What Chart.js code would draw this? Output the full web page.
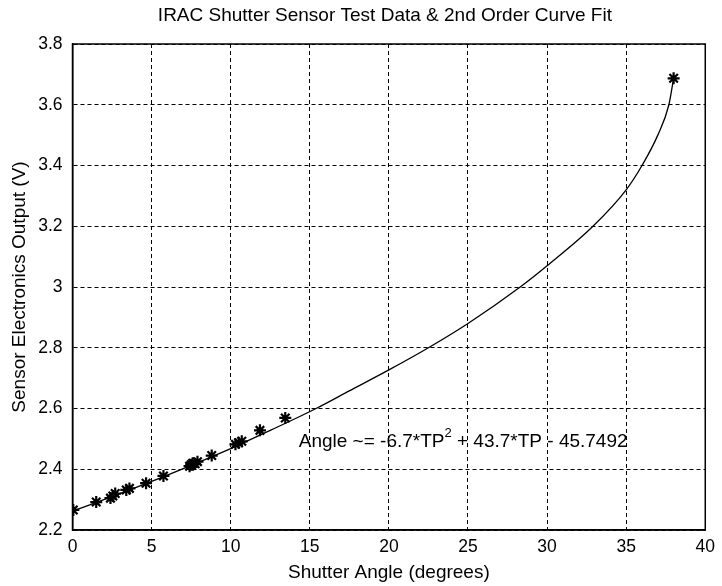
<!DOCTYPE html>
<html>
<head>
<meta charset="utf-8">
<script src="https://cdn.jsdelivr.net/npm/chart.js@4/dist/chart.umd.min.js"></script>
<style>
  html, body { margin: 0; padding: 0; background: #fff; }
  #wrap { width: 722px; height: 586px; }
</style>
</head>
<body>
<div id="wrap"><canvas id="fitChart"></canvas></div>
<script>
// measured test points (shutter angle in degrees, sensor output in volts)
const testAngle = [0.05, 1.5, 2.4, 2.55, 2.7, 3.4, 3.6, 4.65, 5.75, 7.4, 7.5, 7.6, 7.75, 7.9, 8.8, 10.3, 10.5, 10.7, 11.85, 13.45, 38.0];
const testVolts = [2.266, 2.292, 2.305, 2.312, 2.32, 2.332, 2.337, 2.354, 2.378, 2.41, 2.415, 2.42, 2.418, 2.425, 2.445, 2.482, 2.487, 2.492, 2.528, 2.569, 3.687];

// fitted curve
const fitAngle = [0, 2.5, 5, 7.5, 10, 12.5, 15.4, 17.5, 20, 22.5, 25, 28.3, 30, 32.9, 35, 36, 37, 37.7, 38.0];
const fitVolts = [2.262, 2.31, 2.36, 2.413, 2.468, 2.528, 2.6, 2.658, 2.727, 2.8, 2.88, 3.0, 3.07, 3.2, 3.32, 3.4, 3.5, 3.6, 3.687];

const xTickValues = [0, 5, 10, 15, 20, 25, 30, 35, 40];
const xTickLabels = ["0", "5", "10", "15", "20", "25", "30", "35", "40"];
const yTickValues = [2.2, 2.4, 2.6, 2.8, 3.0, 3.2, 3.4, 3.6, 3.8];
const yTickLabels = ["2.2", "2.4", "2.6", "2.8", "3", "3.2", "3.4", "3.6", "3.8"];

const titleText = "IRAC Shutter Sensor Test Data & 2nd Order Curve Fit";
const xTitle = "Shutter Angle (degrees)";
const yTitle = "Sensor Electronics Output (V)";
const fitLabel = ["Angle ~= -6.7*TP", "2", " + 43.7*TP - 45.7492"];
const fitLabelAt = { x: 14.3, y: 2.49 };

const FONT = "'Liberation Sans', Arial, sans-serif";

// title over the plot box, box round the plot area, fit equation
const boxAndNote = {
  id: "boxAndNote",
  afterDraw(chart) {
    const { ctx, chartArea: a, scales } = chart;
    ctx.save();
    ctx.strokeStyle = "#000";
    ctx.lineWidth = 1.5;
    ctx.setLineDash([]);
    ctx.strokeRect(a.left, a.top, a.right - a.left, a.bottom - a.top);

    ctx.fillStyle = "#000";
    ctx.textBaseline = "middle";
    ctx.textAlign = "center";
    ctx.font = "19px " + FONT;
    ctx.fillText(titleText, (a.left + a.right) / 2 - 4, 16);

    let x = scales.x.getPixelForValue(fitLabelAt.x);
    const y = scales.y.getPixelForValue(fitLabelAt.y);
    ctx.textAlign = "left";
    ctx.fillText(fitLabel[0], x, y);
    x += ctx.measureText(fitLabel[0]).width;
    ctx.font = "13px " + FONT;
    ctx.fillText(fitLabel[1], x, y - 8);
    x += ctx.measureText(fitLabel[1]).width;
    ctx.font = "19px " + FONT;
    ctx.fillText(fitLabel[2], x, y);
    ctx.restore();
  }
};

const ctx = document.getElementById("fitChart");

new Chart(ctx, {
  type: "scatter",
  data: {
    datasets: [
      {
        label: "fit",
        data: fitAngle.map((a, i) => ({ x: a, y: fitVolts[i] })),
        showLine: true,
        borderColor: "#000",
        borderWidth: 1.3,
        pointRadius: 0,
        cubicInterpolationMode: "monotone",
      },
      {
        label: "test data",
        data: testAngle.map((a, i) => ({ x: a, y: testVolts[i] })),
        pointStyle: "star",
        pointRadius: 6,
        borderColor: "#000",
        backgroundColor: "#000",
        pointBorderWidth: 2.2,
      },
    ],
  },
  options: {
    responsive: true,
    maintainAspectRatio: false,
    animation: false,
    layout: { padding: { left: 0, right: 12, top: 44, bottom: 0 } },
    plugins: {
      legend: { display: false },
      tooltip: { enabled: false },
      title: { display: false },
    },
    scales: {
      x: {
        type: "linear",
        min: 0,
        max: 40,
        afterBuildTicks: (s) => { s.ticks = xTickValues.map((v) => ({ value: v })); },
        afterFit: (s) => { s.height = 56; },
        ticks: {
          color: "#000",
          font: { family: FONT, size: 17.5 },
          padding: 7,
          maxRotation: 0,
          callback: (v, i) => xTickLabels[i],
        },
        grid: { color: "#000", lineWidth: 1, drawTicks: false },
        border: { display: true, color: "#000", width: 1.5, dash: [4, 3] },
        title: {
          display: true,
          text: xTitle,
          color: "#000",
          font: { family: FONT, size: 19 },
          padding: { top: 0, bottom: 1.5 },
        },
      },
      y: {
        type: "linear",
        min: 2.2,
        max: 3.8,
        afterBuildTicks: (s) => { s.ticks = yTickValues.map((v) => ({ value: v })); },
        afterFit: (s) => { s.width = 72.5; },
        ticks: {
          color: "#000",
          font: { family: FONT, size: 17.5 },
          padding: 10,
          callback: (v, i) => yTickLabels[i],
        },
        grid: { color: "#000", lineWidth: 1, drawTicks: false },
        border: { display: true, color: "#000", width: 1.5, dash: [4, 3] },
        title: {
          display: true,
          text: yTitle,
          color: "#000",
          font: { family: FONT, size: 19 },
          padding: { top: 8.5, bottom: 0 },
        },
      },
    },
  },
  plugins: [boxAndNote],
});
</script>
</body>
</html>
